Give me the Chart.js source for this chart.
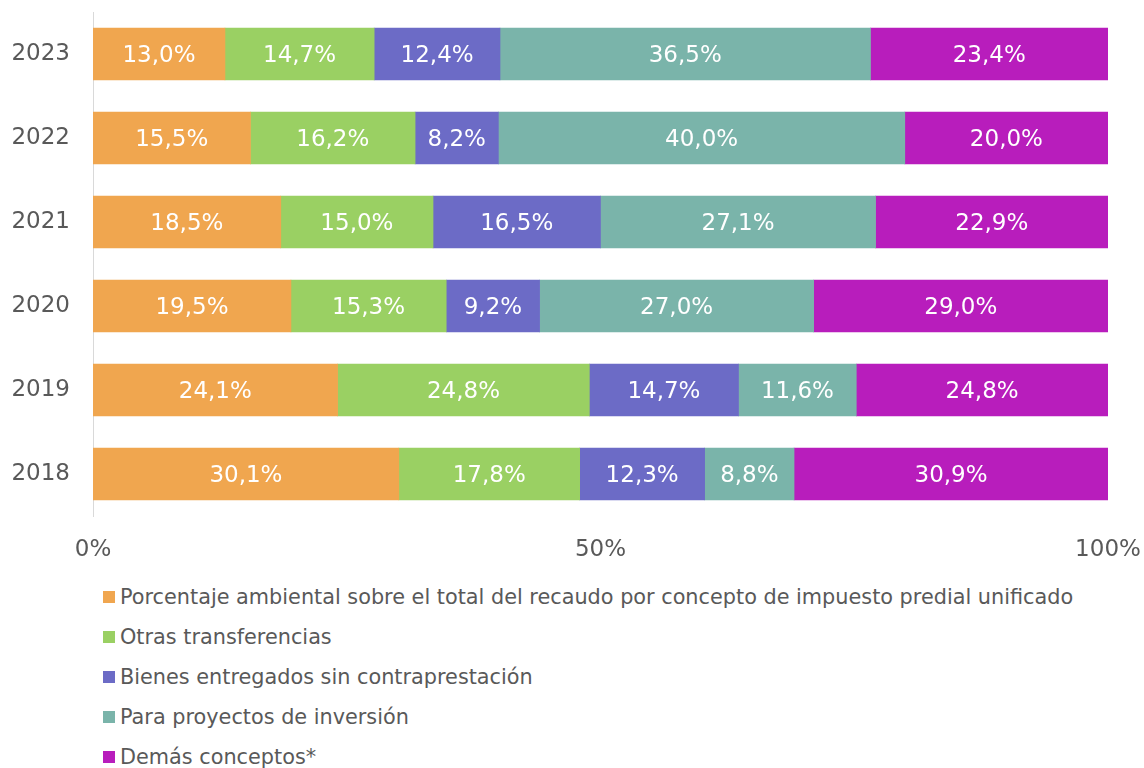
<!DOCTYPE html>
<html><head><meta charset="utf-8">
<script src="https://cdn.jsdelivr.net/npm/chart.js@4/dist/chart.umd.min.js"></script>
<style>
html,body{margin:0;padding:0;background:#fff;}
body{width:1144px;height:768px;overflow:hidden;position:relative;font-family:"DejaVu Sans",Verdana,sans-serif;}
#wrap{position:absolute;left:0;top:0;width:1144px;height:577px;}
#legend{position:absolute;left:103px;top:577px;margin:0;padding:0;list-style:none;color:#595959;font-size:20.8px;}
#legend li{height:40px;line-height:40px;white-space:nowrap;display:flex;align-items:center;}
#legend span.box{display:inline-block;width:12px;height:12px;margin-right:5px;}
</style></head>
<body>
<div id="wrap"><canvas id="chart"></canvas></div>
<ul id="legend"></ul>
<script>
const $=q=>document.querySelector(q);
// data
const years=["2023","2022","2021","2020","2019","2018"];
const seriesNames=["Porcentaje ambiental sobre el total del recaudo por concepto de impuesto predial unificado","Otras transferencias","Bienes entregados sin contraprestación","Para proyectos de inversión","Demás conceptos*"];
const predial=[13.0,15.5,18.5,19.5,24.1,30.1];
const otras=[14.7,16.2,15.0,15.3,24.8,17.8];
const bienes=[12.4,8.2,16.5,9.2,14.7,12.3];
const proyectos=[36.5,40.0,27.1,27.0,11.6,8.8];
const demas=[23.4,20.0,22.9,29.0,24.8,30.9];
const xTicks=[0,50,100];
const colors=["#F0A64F","#9AD063","#6C6BC6","#7AB4AA","#B81DBC"];

const raw=[predial,otras,bienes,proyectos,demas];
const totals=years.map((y,i)=>raw.reduce((s,a)=>s+a[i],0));
const fmt=v=>v.toFixed(1).replace(".",",")+"%";

const datasets=raw.map((a,k)=>({label:seriesNames[k],data:a.map((v,i)=>v/totals[i]*100),raw:a,
  backgroundColor:colors[k],borderWidth:0,barThickness:52}));

const labelPlugin={id:"barLabels",afterDatasetsDraw(c){const ctx=c.ctx;ctx.save();
  ctx.font='23px "DejaVu Sans", Verdana, sans-serif';ctx.fillStyle="#fff";ctx.textAlign="center";ctx.textBaseline="middle";
  c.data.datasets.forEach((ds,k)=>{c.getDatasetMeta(k).data.forEach((bar,i)=>{
    const p=bar.getProps(["x","y","base"],true);ctx.fillText(fmt(ds.raw[i]),(p.x+p.base)/2,p.y+2);});});
  ctx.restore();}};

const tickFont={family:'"DejaVu Sans", Verdana, sans-serif',size:23};
const chart=new Chart($("#chart"),{type:"bar",data:{labels:years,datasets},
  options:{indexAxis:"y",animation:false,responsive:true,maintainAspectRatio:false,
    layout:{padding:{top:12,right:36,left:0,bottom:0}},
    plugins:{legend:{display:false},tooltip:{enabled:false}},
    scales:{
      x:{stacked:true,min:0,max:100,afterBuildTicks:s=>{s.ticks=xTicks.map(v=>({value:v}));},
        grid:{display:false},border:{display:false},
        ticks:{color:"#595959",font:tickFont,padding:12,maxRotation:0,callback:v=>v+"%"},
        afterFit:s=>{s.height=61;s.paddingLeft=0;s.paddingRight=0;}},
      y:{stacked:true,grid:{display:false,drawTicks:false},border:{display:true,color:"#D9D9D9",width:1},
        ticks:{color:"#595959",font:tickFont,padding:23},
        afterFit:s=>{s.width=93;s.paddingTop=0;s.paddingBottom=0;}}
    }},
  plugins:[labelPlugin]});

// legend from the chart's own items
const lg=$("#legend");
chart.options.plugins.legend.labels.generateLabels(chart).forEach(it=>{
  const li=document.createElement("li");
  li.innerHTML=`<span class="box" style="background:${it.fillStyle}"></span>${it.text}`;
  lg.appendChild(li);});
</script>
</body></html>
